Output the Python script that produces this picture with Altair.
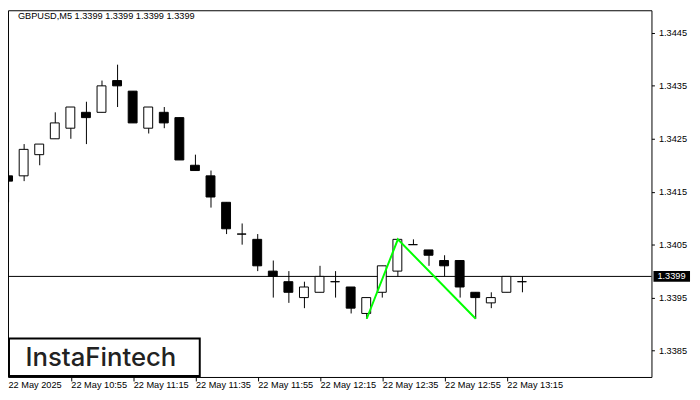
import altair as alt
import pandas as pd

# ---- data ----
times = ["10:35", "10:40", "10:45", "10:50", "10:55", "11:00", "11:05", "11:10",
         "11:15", "11:20", "11:25", "11:30", "11:35", "11:40", "11:45", "11:50",
         "11:55", "12:00", "12:05", "12:10", "12:15", "12:20", "12:25", "12:30",
         "12:35", "12:40", "12:45", "12:50", "12:55", "13:00", "13:05", "13:10",
         "13:15", "13:20"]
opens = [1.3418, 1.3418, 1.3422, 1.3425, 1.3427, 1.3430, 1.3430, 1.3436,
         1.3434, 1.3427, 1.3430, 1.3429, 1.3420, 1.3418, 1.3413, 1.3407,
         1.3406, 1.3400, 1.3398, 1.3395, 1.3396, 1.3398, 1.3397, 1.3392,
         1.3396, 1.3400, 1.3405, 1.3404, 1.3402, 1.3402, 1.3396, 1.3394,
         1.3396, 1.3398]
highs = [1.3419, 1.3424, 1.3424, 1.3430, 1.3431, 1.3432, 1.3436, 1.3439,
         1.3434, 1.3431, 1.3431, 1.3429, 1.3422, 1.3419, 1.3413, 1.3409,
         1.3407, 1.3402, 1.3400, 1.3398, 1.3401, 1.3400, 1.3397, 1.3395,
         1.3401, 1.3406, 1.3406, 1.3404, 1.3403, 1.3402, 1.3396, 1.3396,
         1.3399, 1.3399]
lows = [1.3413, 1.3417, 1.3420, 1.3425, 1.3425, 1.3424, 1.3430, 1.3431,
        1.3428, 1.3426, 1.3427, 1.3421, 1.3419, 1.3412, 1.3407, 1.3405,
        1.3400, 1.3395, 1.3394, 1.3393, 1.3396, 1.3395, 1.3392, 1.3391,
        1.3395, 1.3399, 1.3405, 1.3401, 1.3399, 1.3395, 1.3391, 1.3393,
        1.3396, 1.3396]
closes = [1.3417, 1.3423, 1.3424, 1.3428, 1.3431, 1.3429, 1.3435, 1.3435,
          1.3428, 1.3431, 1.3428, 1.3421, 1.3419, 1.3414, 1.3408, 1.3407,
          1.3401, 1.3399, 1.3396, 1.3397, 1.3399, 1.3398, 1.3393, 1.3395,
          1.3401, 1.3406, 1.3405, 1.3403, 1.3401, 1.3397, 1.3395, 1.3395,
          1.3399, 1.3398]

x_tick_times = ["10:35", "10:55", "11:15", "11:35", "11:55", "12:15", "12:35", "12:55", "13:15"]
x_tick_labels = ["22 May 2025", "22 May 10:55", "22 May 11:15", "22 May 11:35",
                 "22 May 11:55", "22 May 12:15", "22 May 12:35", "22 May 12:55",
                 "22 May 13:15"]
y_ticks = [1.3385, 1.3395, 1.3405, 1.3415, 1.3425, 1.3435, 1.3445]
current_price = 1.3399
pattern_times = ["12:30", "12:40", "13:05"]
pattern_prices = [1.3391, 1.3406, 1.3391]
title_text = "GBPUSD,M5  1.3399 1.3399 1.3399 1.3399"
logo_text = "InstaFintech"

# ---- layout ----
W, H = 651, 371
PX_PER_PRICE = 53550.0
PX_PER_BAR = 16.0
x_lo = 4.5 / PX_PER_BAR
x_hi = x_lo + W / PX_PER_BAR
y_lo = 1.3380
y_hi = y_lo + H / PX_PER_PRICE
FONT = "Liberation Sans"
FS = 9.3

idx_of = {t: i for i, t in enumerate(times)}
df = pd.DataFrame({"idx": list(range(len(times))), "time": times,
                   "open": opens, "high": highs, "low": lows, "close": closes})
df["body_lo"] = df[["open", "close"]].min(axis=1)
df["body_hi"] = df[["open", "close"]].max(axis=1)
df["fill"] = ["white" if c >= o else "black" for o, c in zip(opens, closes)]

pat = pd.DataFrame({"idx": [idx_of[t] for t in pattern_times], "price": pattern_prices})
cur = pd.DataFrame({"price": [current_price], "label": [f"{current_price:.4f}"]})

tick_idx = [idx_of[t] for t in x_tick_times]
label_arr = "[" + ",".join("'" + s + "'" for s in x_tick_labels) + "]"
label_expr = f"{label_arr}[indexof({[i for i in tick_idx]}, datum.value)]"

xscale = alt.Scale(domain=[x_lo, x_hi], nice=False, zero=False)
yscale = alt.Scale(domain=[y_lo, y_hi], nice=False, zero=False)
xaxis = alt.Axis(values=tick_idx[1:], labelExpr=label_expr, labelAlign="left",
                 labelPadding=0, tickSize=4, tickColor="black", domain=False,
                 grid=False, title=None, labelFont=FONT, labelFontSize=FS,
                 labelColor="black", labelFlush=False, labelOverlap=False)
yaxis = alt.Axis(orient="right", values=y_ticks, format=".4f", tickSize=3,
                 tickColor="black", labelPadding=4, domain=False, grid=False,
                 title=None, labelFont=FONT, labelFontSize=FS, labelColor="black",
                 labelFlush=False, labelOverlap=False)

base = alt.Chart(df)

price_line = alt.Chart(cur).mark_rule(color="black", strokeWidth=1).encode(
    y=alt.Y("price:Q", scale=yscale, axis=yaxis))

wicks = base.mark_rule(color="black", strokeWidth=1).encode(
    x=alt.X("idx:Q", scale=xscale, axis=xaxis),
    y=alt.Y("low:Q", scale=yscale, axis=yaxis),
    y2="high:Q")

bodies = base.mark_bar(size=9, xOffset=-0.5, stroke="black", strokeWidth=1).encode(
    x=alt.X("idx:Q", scale=xscale),
    y=alt.Y("body_lo:Q", scale=yscale),
    y2="body_hi:Q",
    fill=alt.Fill("fill:N", scale=None))

pattern = alt.Chart(pat).mark_line(color="#00ff00", strokeWidth=2).encode(
    x=alt.X("idx:Q", scale=xscale), y=alt.Y("price:Q", scale=yscale))

price_box = alt.Chart(cur).mark_rule(color="black", strokeWidth=11).encode(
    x=alt.value(653), x2=alt.value(690), y=alt.Y("price:Q", scale=yscale))
price_txt = alt.Chart(cur).mark_text(color="white", align="left", baseline="middle",
                                     font=FONT, fontSize=FS).encode(
    x=alt.value(657), y=alt.Y("price:Q", scale=yscale), text="label:N")

title = alt.Chart(pd.DataFrame({"t": [title_text]})).mark_text(
    align="left", baseline="middle", font=FONT, fontSize=FS, color="black").encode(
    x=alt.value(10), y=alt.value(6), text="t:N")

first_label = alt.Chart(pd.DataFrame({"t": [x_tick_labels[0]]})).mark_text(
    align="left", baseline="top", font=FONT, fontSize=FS, color="black").encode(
    x=alt.value(0.5), y=alt.value(375), text="t:N")

logo_box = alt.Chart(pd.DataFrame({"a": [0]})).mark_rect(
    fill="white", stroke="black", strokeWidth=2).encode(
    x=alt.value(1), x2=alt.value(194), y=alt.value(332), y2=alt.value(370))
logo_txt = alt.Chart(pd.DataFrame({"t": [logo_text]})).mark_text(
    align="center", baseline="alphabetic", font="Inter", fontSize=26,
    fontWeight=500, color="#222222").encode(
    x=alt.value(94), y=alt.value(360), text="t:N")

chart = alt.layer(price_line, wicks, bodies, pattern, price_box, price_txt,
                  title, first_label, logo_box, logo_txt).properties(
    width=W, height=H,
    autosize=alt.AutoSizeParams(type="none"),
    padding={"left": 0, "top": 0, "right": 41, "bottom": 21},
    background="white",
).configure_view(stroke="black", strokeWidth=1)

chart.save("out.html", embed_options={"renderer": "svg", "actions": False})
